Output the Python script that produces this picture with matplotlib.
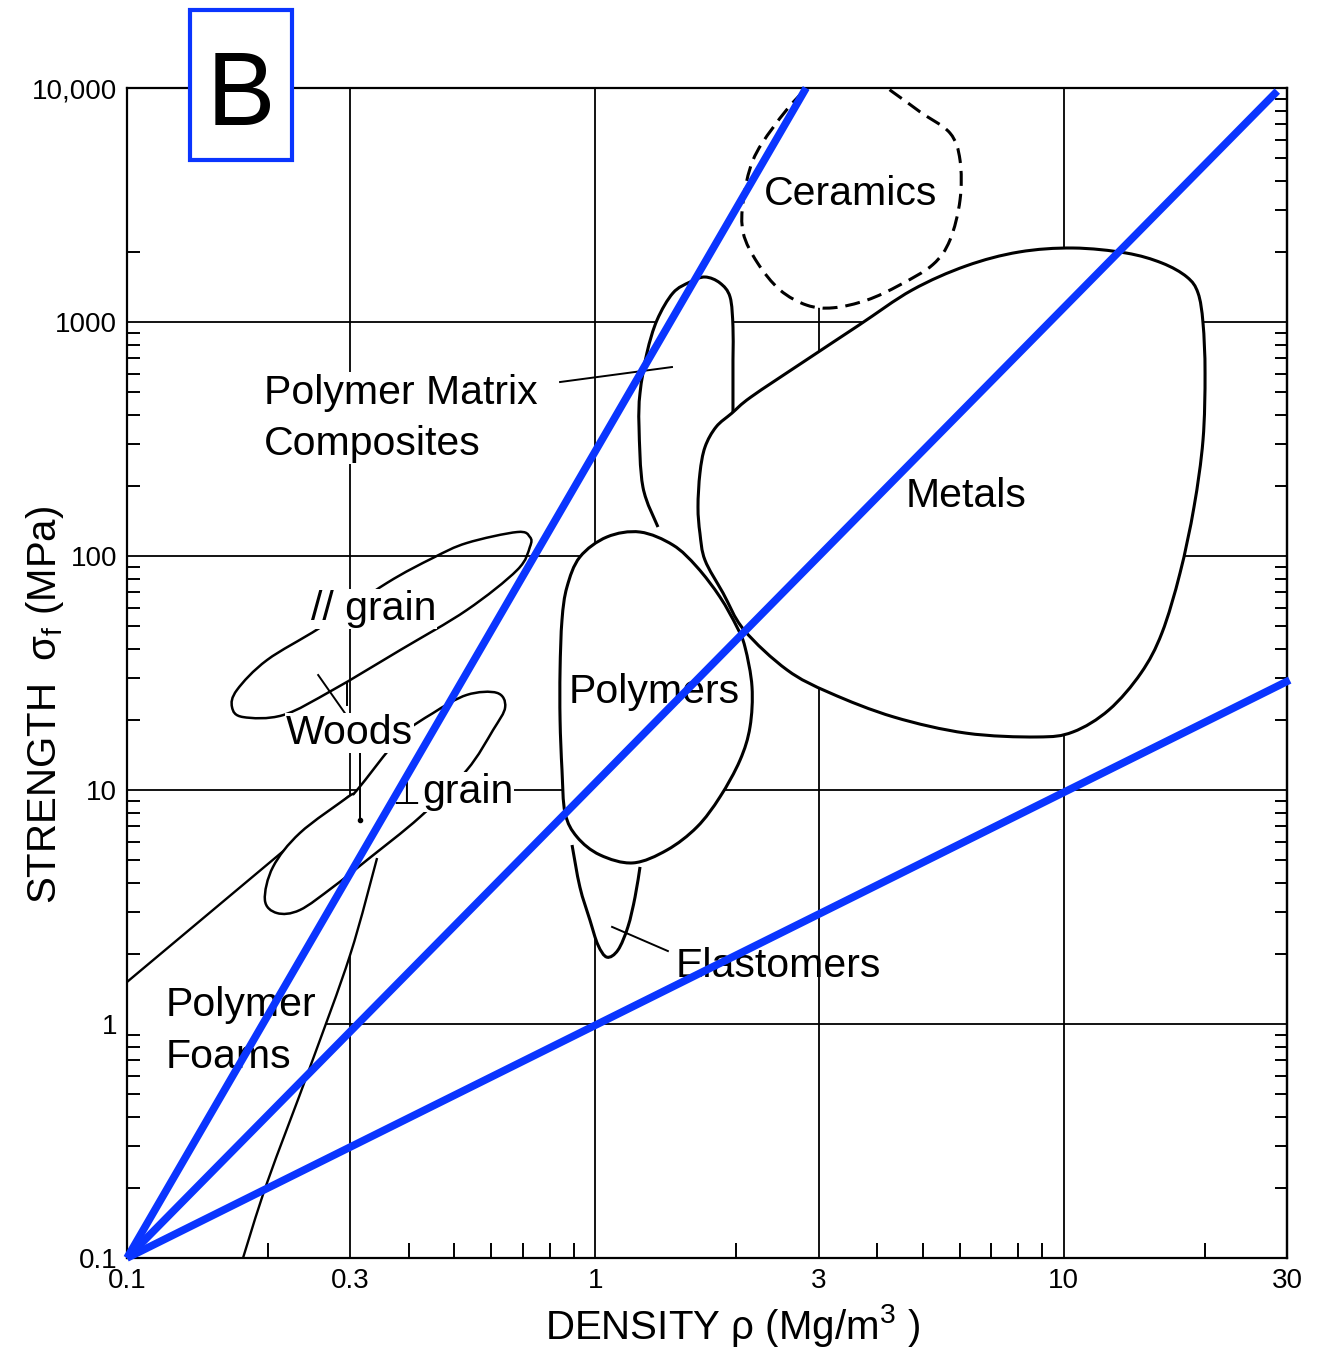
import numpy as np
import matplotlib
matplotlib.use("Agg")
import matplotlib.pyplot as plt
from matplotlib.path import Path
from matplotlib.patches import PathPatch, Rectangle
from matplotlib.ticker import FixedLocator, FixedFormatter, NullFormatter

plt.rcParams['font.family'] = ['Liberation Sans', 'DejaVu Sans']
plt.rcParams['mathtext.default'] = 'regular'

BLUE = '#0a35ff'
TICK_FONT = ['Liberation Sans Narrow', 'Liberation Sans', 'DejaVu Sans']

# axes
x_ticks = [0.1, 0.3, 1, 3, 10, 30]
x_tick_labels = ['0.1', '0.3', '1', '3', '10', '30']
y_ticks = [0.1, 1, 10, 100, 1000, 10000]
y_tick_labels = ['0.1', '1', '10', '100', '1000', '10,000']
x_grid = [0.3, 1, 3, 10]
y_grid = [1, 10, 100, 1000]
x_minor = [0.2, 0.4, 0.5, 0.6, 0.7, 0.8, 0.9, 2, 4, 5, 6, 7, 8, 9, 20]
y_minor_left = [m * d for d in (0.1, 1, 10, 100) for m in range(2, 10)] + [2000]

# material fields: density (Mg/m^3) vs strength (MPa)
ceramics_rho = [2.78, 2.40, 2.17, 2.07, 2.07, 2.22, 2.48, 2.83, 3.22, 3.80,
                4.47, 5.26, 5.72, 6.01, 6.01, 5.72, 4.94, 4.32, 3.46]
ceramics_sig = [9600, 6800, 4900, 3300, 2400, 1790, 1370, 1180, 1150, 1240,
                1440, 1760, 2240, 3320, 4920, 6420, 7900, 9600, 13000]

metals_rho = [1.958, 1.811, 1.715, 1.673, 1.657, 1.673, 1.715, 1.874, 2.078, 2.567,
              3.171, 4.343, 6.19, 8.77, 10.47, 12.50, 14.63, 16.22, 17.73, 18.99,
              19.85, 20.05, 19.85, 19.37, 18.34, 16.22, 13.59, 10.47, 8.03, 6.19,
              4.75, 3.66, 2.80, 2.150]
metals_sig = [408, 356, 292, 226, 162, 125, 96, 69.5, 48.3, 32.6,
              26.0, 20.5, 17.5, 16.85, 17.7, 22.0, 31.6, 46.9, 84.6, 162,
              313, 605, 990, 1330, 1557, 1787, 1972, 2071, 1991, 1736,
              1370, 971, 681, 478]

polymers_rho = [1.246, 1.059, 0.927, 0.870, 0.849, 0.841, 0.841, 0.849, 0.862, 0.914,
                1.023, 1.204, 1.423, 1.649, 1.846, 2.037, 2.140, 2.161, 2.088, 2.007,
                1.846, 1.649, 1.465]
polymers_sig = [126.6, 120.6, 99.0, 73.7, 53.3, 32.6, 19.9, 12.18, 7.97, 6.30,
                5.28, 4.88, 5.54, 6.95, 9.34, 13.4, 18.6, 27.6, 40.8, 49.7,
                66.8, 89.7, 111.4]

# composites: open outline, rest of the field lies under metals / polymers
pmc_rho = [1.361, 1.264, 1.240, 1.246, 1.289, 1.355, 1.465, 1.593, 1.715, 1.846,
           1.940, 1.968, 1.968, 1.968]
pmc_sig = [133, 197, 356, 497, 737, 1020, 1330, 1482, 1557, 1468,
           1279, 952, 688, 408]
pmc_hidden = ([2.140, 1.828, 1.517, 1.409], [284, 111, 83, 104])

elast_rho = [0.892, 0.927, 0.974, 1.013, 1.059, 1.118, 1.174, 1.216, 1.246]
elast_sig = [5.82, 3.85, 2.78, 2.18, 1.93, 2.07, 2.60, 3.49, 4.69]
elast_hidden = ([1.246, 0.905], [6.11, 7.82])

wood_par_rho = [0.725, 0.681, 0.532, 0.450, 0.359, 0.258, 0.199, 0.1718, 0.1676, 0.1769,
                0.2154, 0.2754, 0.383, 0.532, 0.681, 0.725]
wood_par_sig = [120.6, 126.6, 113.7, 98.1, 76.7, 49.3, 35.9, 26.8, 22.6, 20.5,
                20.9, 26.8, 39.6, 58.8, 87.1, 109.3]

wood_perp_rho = [0.617, 0.532, 0.450, 0.383, 0.310, 0.2964, 0.234, 0.205, 0.197, 0.209,
                 0.234, 0.2754, 0.3255, 0.4224, 0.532, 0.605, 0.642]
wood_perp_sig = [26.0, 25.5, 21.3, 16.85, 10.0, 9.34, 6.55, 4.69, 3.39, 2.98,
                 3.07, 3.85, 5.02, 7.67, 12.18, 18.05, 22.6]

foam_top_rho = [0.1, 0.2964]
foam_top_sig = [1.512, 9.34]
foam_edge_rho = [0.342, 0.2995, 0.246, 0.199, 0.1769]
foam_edge_sig = [5.12, 1.972, 0.655, 0.209, 0.1]
foam_hidden = ([0.1, 0.1, 0.2964, 0.36], [0.1, 1.512, 9.34, 7.0])

# performance guide lines from the origin corner
guide_rho = [2.82, 28.6, 30.4]
guide_sig = [10000, 9700, 29.5]

# leader lines
leaders = [
    ([0.841, 1.458], [554, 642]),
    ([1.086, 1.429], [2.60, 2.05]),
    ([0.256, 0.292], [31.0, 21.3]),
    ([0.295, 0.295], [28.7, 23.1]),
    ([0.3145, 0.3145], [15.3, 7.44]),
]

# field labels (anchored at the baseline of the last line)
label_text = ['Ceramics', 'Metals', 'Polymers', 'Elastomers',
              'Polymer Matrix\nComposites', '// grain', 'Woods', 'grain',
              'Polymer\nFoams']
label_rho = [2.29, 4.61, 0.879, 1.487, 0.196, 0.247, 0.2185, 0.4265, 0.121]
label_sig = [3162, 162, 23.5, 1.588, 270, 53.3, 15.7, 8.80, 0.649]
label_boxed = [False, False, False, False, True, True, True, True, False]
perp_rho, perp_sig = 0.368, 8.75


def spline_path(rho, sig, closed=False, tail=None):
    # Catmull-Rom through the outline points, done in log space
    p = np.log10(np.column_stack([rho, sig]))
    n = len(p)
    if closed:
        ext = np.vstack([p[-1], p, p[0], p[1]])
        nseg = n
    else:
        ext = np.vstack([p[0], p, p[-1]])
        nseg = n - 1
    verts = [ext[1]]
    codes = [Path.MOVETO]
    for i in range(nseg):
        a, b, c, d = ext[i:i + 4]
        verts += [b + (c - a) / 6, c - (d - b) / 6, c]
        codes += [Path.CURVE4] * 3
    if tail is not None:
        for q in np.log10(np.column_stack(tail)):
            verts.append(q)
            codes.append(Path.LINETO)
    if closed or tail is not None:
        verts.append(verts[0])
        codes.append(Path.CLOSEPOLY)
    return Path(10 ** np.array(verts), codes)


def field(ax, rho, sig, z, closed=True, tail=None, fill=True, **kw):
    if fill:
        ax.add_patch(PathPatch(spline_path(rho, sig, closed, tail),
                               facecolor='white', edgecolor='none', zorder=z))
    style = dict(facecolor='none', edgecolor='black', lw=2.2, zorder=z + 0.01)
    style.update(kw)
    ax.add_patch(PathPatch(spline_path(rho, sig, closed), **style))


fig = plt.figure(figsize=(13.26, 13.51), dpi=100)
ax = fig.add_axes([127 / 1326, 1 - 1258 / 1351, 1160 / 1326, 1170 / 1351])
ax.set_xscale('log')
ax.set_yscale('log')
ax.set_xlim(0.1, 30)
ax.set_ylim(0.1, 10000)
ax.set_axisbelow(False)

for x in x_grid:
    ax.axvline(x, color='black', lw=1.3, zorder=0.5)
for y in y_grid:
    ax.axhline(y, color='black', lw=1.3, zorder=0.5)

# fields
field(ax, pmc_rho, pmc_sig, 1.0, closed=False, tail=pmc_hidden)
field(ax, elast_rho, elast_sig, 1.0, closed=False, tail=elast_hidden)
ax.add_patch(PathPatch(spline_path(foam_edge_rho, foam_edge_sig, False, foam_hidden),
                       facecolor='white', edgecolor='none', zorder=1.0))
ax.add_patch(PathPatch(spline_path(foam_edge_rho, foam_edge_sig), facecolor='none',
                       edgecolor='black', lw=1.7, zorder=1.05))
ax.plot(foam_top_rho, foam_top_sig, color='black', lw=1.7, zorder=1.05)
field(ax, metals_rho, metals_sig, 1.2)
field(ax, polymers_rho, polymers_sig, 1.2)
field(ax, ceramics_rho, ceramics_sig, 1.2, linestyle=(0, (4.9, 2.6)))
field(ax, wood_perp_rho, wood_perp_sig, 1.3, lw=1.8)
field(ax, wood_par_rho, wood_par_sig, 1.3, fill=False, lw=1.8)

for lr, ls in leaders:
    ax.plot(lr, ls, color='black', lw=1.4, zorder=1.4)
ax.plot(leaders[-1][0][-1], leaders[-1][1][-1], 'o', color='black', ms=3, zorder=1.4)

for t, r, s, boxed in zip(label_text, label_rho, label_sig, label_boxed):
    bbox = dict(facecolor='white', edgecolor='none', pad=1) if boxed else None
    ax.text(r, s, t, fontsize=29.5, ha='left', va='baseline', linespacing=1.45,
            bbox=bbox, zorder=4)
ax.text(perp_rho, perp_sig, '\u22a5', fontsize=23, ha='left', va='baseline',
        family='DejaVu Sans', bbox=dict(facecolor='white', edgecolor='none', pad=1),
        zorder=4)

for er, es in zip(guide_rho, guide_sig):
    ax.plot([0.1, er], [0.1, es], color=BLUE, lw=5.5, solid_capstyle='butt',
            clip_on=False, zorder=5)

# ticks
ax.xaxis.set_major_locator(FixedLocator(x_ticks))
ax.xaxis.set_major_formatter(FixedFormatter(x_tick_labels))
ax.xaxis.set_minor_locator(FixedLocator(x_minor))
ax.xaxis.set_minor_formatter(NullFormatter())
ax.yaxis.set_major_locator(FixedLocator(y_ticks))
ax.yaxis.set_major_formatter(FixedFormatter(y_tick_labels))
ax.yaxis.set_minor_locator(FixedLocator(y_minor_left))
ax.yaxis.set_minor_formatter(NullFormatter())
ax.tick_params(which='major', length=0, pad=7, labelsize=20)
ax.tick_params(axis='x', which='minor', direction='in', length=11, width=1.4,
               bottom=True, top=False)
ax.tick_params(axis='y', which='minor', direction='in', length=9, width=1.4,
               left=True, right=False)
for lbl in ax.get_xticklabels() + ax.get_yticklabels():
    lbl.set_fontfamily(TICK_FONT)

sec = ax.secondary_yaxis('right')
sec.tick_params(which='both', labelright=False)
sec.tick_params(which='major', length=0)
sec.tick_params(which='minor', direction='in', length=9, width=1.4)
sec.spines['right'].set_linewidth(1.6)

for sp in ax.spines.values():
    sp.set_linewidth(1.6)

ax.text(0.522, -0.058, 'DENSITY \u03c1 (Mg/m$^3$ )', transform=ax.transAxes,
        fontsize=29, ha='center', va='center')
ax.text(-0.0707, 0.4726, 'STRENGTH  \u03c3$_f$ (MPa)', transform=ax.transAxes,
        fontsize=29, ha='center', va='center', rotation=90)

# panel tag
fig.add_artist(Rectangle((190 / 1326, 1 - 160 / 1351), 102 / 1326, 150 / 1351,
                         transform=fig.transFigure, facecolor='white',
                         edgecolor=BLUE, lw=3, zorder=10))
fig.text(241 / 1326, 1 - 125 / 1351, 'B', fontsize=74, ha='center', va='baseline',
         zorder=11)

fig.savefig('out.png', dpi=100, facecolor='white')
